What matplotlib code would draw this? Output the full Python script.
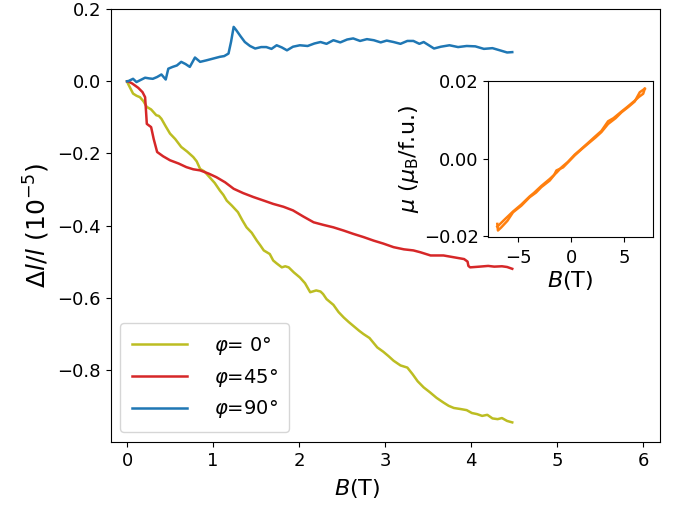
import matplotlib
matplotlib.use('Agg')
import matplotlib.pyplot as plt

plt.rcParams['font.family'] = ['DejaVu Sans']
plt.rcParams['mathtext.fontset'] = 'dejavusans'

# phi = 0 deg
b0 = [0.0, 0.01, 0.04, 0.07, 0.11, 0.15, 0.19, 0.23, 0.28, 0.34, 0.37, 0.40, 0.45, 0.50, 0.56,
      0.63, 0.70, 0.77, 0.81, 0.85, 0.90, 0.96, 1.02, 1.08, 1.12, 1.16, 1.22, 1.29, 1.34,
      1.39, 1.45, 1.51, 1.55, 1.59, 1.66, 1.70, 1.74, 1.80, 1.84, 1.88, 1.94, 2.01, 2.07,
      2.13, 2.20, 2.25, 2.28, 2.32, 2.40, 2.46, 2.52, 2.58, 2.64, 2.70, 2.75, 2.82, 2.91,
      2.98, 3.04, 3.10, 3.18, 3.26, 3.32, 3.38, 3.45, 3.52, 3.60, 3.68, 3.74, 3.80, 3.88,
      3.95, 4.01, 4.07, 4.13, 4.19, 4.25, 4.31, 4.36, 4.42, 4.48]
d0 = [0.0, -0.006, -0.02, -0.034, -0.040, -0.044, -0.055, -0.071, -0.078, -0.094, -0.096,
      -0.104, -0.125, -0.145, -0.160, -0.182, -0.195, -0.210, -0.222, -0.243, -0.250,
      -0.266, -0.282, -0.303, -0.315, -0.331, -0.345, -0.363, -0.385, -0.405, -0.420,
      -0.442, -0.455, -0.469, -0.479, -0.497, -0.505, -0.516, -0.513, -0.516, -0.530,
      -0.544, -0.560, -0.585, -0.580, -0.583, -0.590, -0.604, -0.620, -0.640, -0.655,
      -0.668, -0.680, -0.692, -0.701, -0.712, -0.738, -0.750, -0.762, -0.775, -0.788,
      -0.794, -0.812, -0.832, -0.849, -0.862, -0.878, -0.891, -0.900, -0.906, -0.909,
      -0.912, -0.920, -0.923, -0.928, -0.925, -0.935, -0.937, -0.934, -0.942, -0.946]

# phi = 45 deg
b45 = [0.0, 0.01, 0.06, 0.13, 0.18, 0.21, 0.22, 0.23, 0.28, 0.31, 0.35, 0.42, 0.50, 0.60,
       0.69, 0.77, 0.85, 0.95, 1.04, 1.14, 1.24, 1.35, 1.47, 1.58, 1.70, 1.82, 1.93,
       2.05, 2.17, 2.28, 2.40, 2.52, 2.63, 2.75, 2.87, 2.98, 3.10, 3.22, 3.33, 3.41,
       3.53, 3.68, 3.80, 3.92, 3.96, 3.97, 3.99, 4.10, 4.20, 4.27, 4.36, 4.42, 4.48]
d45 = [0.0, 0.0, -0.006, -0.018, -0.030, -0.044, -0.080, -0.118, -0.127, -0.160, -0.196,
       -0.208, -0.219, -0.228, -0.238, -0.244, -0.247, -0.256, -0.266, -0.280, -0.298,
       -0.310, -0.321, -0.330, -0.340, -0.348, -0.358, -0.375, -0.391, -0.398, -0.405,
       -0.414, -0.423, -0.432, -0.442, -0.450, -0.460, -0.466, -0.469, -0.474, -0.483,
       -0.483, -0.488, -0.493, -0.500, -0.512, -0.516, -0.514, -0.512, -0.514, -0.513,
       -0.515, -0.520]

# phi = 90 deg
b90 = [0.0, 0.01, 0.07, 0.11, 0.16, 0.21, 0.26, 0.30, 0.35, 0.40, 0.45, 0.48, 0.53, 0.58,
       0.63, 0.68, 0.73, 0.79, 0.85, 0.92, 1.00, 1.08, 1.13, 1.18, 1.21, 1.24, 1.27,
       1.32, 1.37, 1.43, 1.49, 1.56, 1.62, 1.68, 1.74, 1.80, 1.86, 1.93, 2.01, 2.10,
       2.18, 2.25, 2.32, 2.40, 2.48, 2.56, 2.63, 2.71, 2.79, 2.87, 2.95, 3.02, 3.10,
       3.18, 3.26, 3.33, 3.40, 3.45, 3.51, 3.57, 3.65, 3.75, 3.85, 3.95, 4.05, 4.15,
       4.25, 4.35, 4.42, 4.48]
d90 = [0.0, 0.0, 0.007, -0.002, 0.004, 0.010, 0.008, 0.007, 0.012, 0.019, 0.005, 0.035,
       0.040, 0.044, 0.054, 0.048, 0.040, 0.066, 0.054, 0.058, 0.063, 0.068, 0.070,
       0.077, 0.110, 0.151, 0.142, 0.125, 0.109, 0.098, 0.091, 0.095, 0.095, 0.090,
       0.100, 0.094, 0.086, 0.096, 0.100, 0.098, 0.105, 0.109, 0.104, 0.114, 0.108,
       0.116, 0.119, 0.112, 0.117, 0.114, 0.108, 0.113, 0.109, 0.104, 0.112, 0.112,
       0.104, 0.109, 0.100, 0.091, 0.096, 0.100, 0.095, 0.098, 0.097, 0.090, 0.092,
       0.085, 0.080, 0.081]

# inset: magnetisation loop
b_up = [-6.95, -6.89, -6.58, -6.0, -5.47, -4.69, -3.9, -3.3, -2.8, -2.01, -1.6, -1.38,
        -0.75, 0.35, 1.0, 1.6, 2.3, 2.86, 3.49, 4.2, 4.75, 5.4, 6.0, 6.48, 6.95]
m_up = [-0.0168, -0.0185, -0.0177, -0.0160, -0.0138, -0.0121, -0.0099, -0.0087, -0.0073,
        -0.0056, -0.0042, -0.0030, -0.0022, 0.0009, 0.0025, 0.0039, 0.0055, 0.0069,
        0.0090, 0.0105, 0.0120, 0.0134, 0.0148, 0.0172, 0.0181]
b_dn = [6.95, 6.8, 6.4, 6.0, 5.3, 4.75, 4.0, 3.49, 2.86, 2.2, 1.6, 0.9, 0.35, -0.3,
        -0.9, -1.38, -2.01, -2.8, -3.5, -3.9, -4.69, -5.47, -6.2, -6.95]
m_dn = [0.0181, 0.0168, 0.0160, 0.0150, 0.0134, 0.0122, 0.0105, 0.0097, 0.0072, 0.0056,
        0.0041, 0.0024, 0.0011, -0.0008, -0.0022, -0.0036, -0.0052, -0.0070, -0.0088,
        -0.0097, -0.0118, -0.0136, -0.0155, -0.0175]

fig = plt.figure(figsize=(6.75, 5.12), dpi=100)
ax = fig.add_axes([0.164, 0.137, 0.814, 0.845])
ax.plot(b0, d0, color='#bcbd22', lw=1.8, label=r'$\varphi$= 0°')
ax.plot(b45, d45, color='#d62728', lw=1.8, label=r'$\varphi$=45°')
ax.plot(b90, d90, color='#1f77b4', lw=1.8, label=r'$\varphi$=90°')
ax.set_xlim(-0.19, 6.2)
ax.set_ylim(-1.0, 0.2)
ax.set_xticks([0, 1, 2, 3, 4, 5, 6])
ax.set_yticks([0.2, 0.0, -0.2, -0.4, -0.6, -0.8])
ax.tick_params(labelsize=13)
ax.set_xlabel(r'$B$(T)', fontsize=16)
ax.xaxis.set_label_coords(0.448, -0.082)
ax.set_ylabel(r'$\Delta l/l$ (10$^{-5}$)', fontsize=18)
ax.legend(loc='lower left', fontsize=14, handlelength=2.8, handletextpad=1.4,
          borderpad=0.6, labelspacing=0.5)

ins = fig.add_axes([0.7234, 0.5377, 0.2436, 0.3041])
ins.plot(b_up, m_up, color='#ff7f0e', lw=1.8)
ins.plot(b_dn, m_dn, color='#ff7f0e', lw=1.8)
ins.set_xlim(-7.8, 7.7)
ins.set_ylim(-0.0201, 0.0201)
ins.set_xticks([-5, 0, 5])
ins.set_yticks([-0.02, 0.0, 0.02])
ins.tick_params(labelsize=13)
ins.tick_params(axis='x', pad=5)
ins.set_xlabel(r'$B$(T)', fontsize=16, labelpad=2)
ins.set_ylabel(r'$\mu$ ($\mu_{\rm B}$/f.u.)', fontsize=16, labelpad=2)

fig.savefig('out.png', dpi=100)
